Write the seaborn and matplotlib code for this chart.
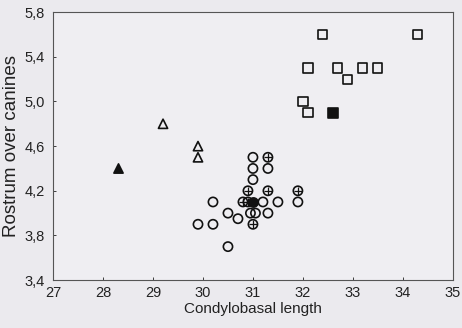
import pandas as pd
import seaborn as sns
import matplotlib.pyplot as plt

# Condylobasal length (x) and rostrum over canines (y), one pair of lists per group
open_square_x = [32.4, 34.3, 32.1, 32.7, 33.2, 33.5, 32.9, 32.0, 32.1]
open_square_y = [5.6, 5.6, 5.3, 5.3, 5.3, 5.3, 5.2, 5.0, 4.9]
filled_square_x = [32.6]
filled_square_y = [4.9]
open_triangle_x = [29.2, 29.9, 29.9]
open_triangle_y = [4.8, 4.6, 4.5]
filled_triangle_x = [28.3]
filled_triangle_y = [4.4]
open_circle_x = [31.0, 31.0, 31.3, 31.0, 30.2, 31.2, 31.5, 31.9, 30.5,
                 30.95, 31.05, 31.3, 30.7, 29.9, 30.2, 30.5]
open_circle_y = [4.5, 4.4, 4.4, 4.3, 4.1, 4.1, 4.1, 4.1, 4.0,
                 4.0, 4.0, 4.0, 3.95, 3.9, 3.9, 3.7]
crossed_circle_x = [31.3, 30.9, 31.3, 31.9, 30.8, 30.9, 31.0]
crossed_circle_y = [4.5, 4.2, 4.2, 4.2, 4.1, 4.1, 3.9]
filled_circle_x = [31.0]
filled_circle_y = [4.1]

x_ticks = [27, 28, 29, 30, 31, 32, 33, 34, 35]
y_ticks = [3.4, 3.8, 4.2, 4.6, 5.0, 5.4, 5.8]
y_tick_labels = ['3,4', '3,8', '4,2', '4,6', '5,0', '5,4', '5,8']

sns.set_theme(style="white")
plt.rcParams['font.family'] = ['Liberation Sans', 'DejaVu Sans']

fig = plt.figure(figsize=(4.62, 3.28), dpi=100, facecolor='#ebeaee')
ax = fig.add_axes([0.115, 0.146, 0.865, 0.817])
ax.set_facecolor('#efeef2')

size = 44
lw = 1.2
groups = [
    (open_circle_x, open_circle_y, 'o', 'none'),
    (crossed_circle_x, crossed_circle_y, 'o', 'none'),
    (filled_circle_x, filled_circle_y, 'o', '#111111'),
    (open_square_x, open_square_y, 's', 'none'),
    (filled_square_x, filled_square_y, 's', '#111111'),
    (open_triangle_x, open_triangle_y, '^', 'none'),
    (filled_triangle_x, filled_triangle_y, '^', '#111111'),
]
for xs, ys, marker, face in groups:
    df = pd.DataFrame({'x': xs, 'y': ys})
    sns.scatterplot(data=df, x='x', y='y', marker=marker, s=size,
                    facecolor=face, edgecolor='#111111', linewidth=lw, ax=ax)

# cross inside the crossed circles
df_cross = pd.DataFrame({'x': crossed_circle_x, 'y': crossed_circle_y})
sns.scatterplot(data=df_cross, x='x', y='y', marker='+', s=28,
                color='#111111', linewidth=0.9, ax=ax)

ax.set_xlim(27, 35)
ax.set_ylim(3.4, 5.8)
ax.set_xticks(x_ticks)
ax.set_yticks(y_ticks)
ax.set_yticklabels(y_tick_labels)
ax.tick_params(direction='in', length=2, width=0.6, labelsize=10.5,
               bottom=True, left=True, colors='#222222')
ax.tick_params(axis='y', pad=6)
ax.tick_params(axis='x', pad=4)

for sp in ax.spines.values():
    sp.set_color('#555555')
    sp.set_linewidth(0.8)

ax.set_xlabel('Condylobasal length', fontsize=11, color='#222222', labelpad=2)
ax.set_ylabel('Rostrum over canines', fontsize=13.5, color='#222222', labelpad=3)

fig.savefig('out.png', dpi=100, facecolor=fig.get_facecolor())
